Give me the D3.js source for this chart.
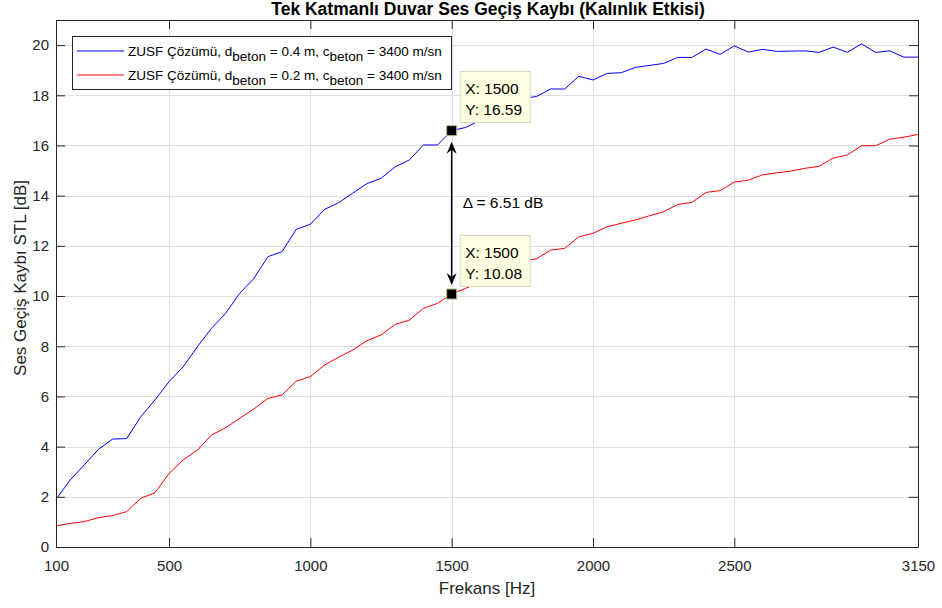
<!DOCTYPE html>
<html>
<head>
<meta charset="utf-8">
<script src="https://cdn.jsdelivr.net/npm/d3@7"></script>
<style>
  html, body { margin: 0; padding: 0; background: #fff; }
  svg { display: block; font-family: "Liberation Sans", Arial, Helvetica, sans-serif; }
</style>
</head>
<body>
<svg id="chart" width="942" height="608"></svg>
<script>
// Frequencies (Hz) at which the transmission loss was evaluated
const freqs = [100, 150, 200, 250, 300, 350, 400, 450, 500, 550, 600, 650, 700, 750, 800, 850, 900, 950,
  1000, 1050, 1100, 1150, 1200, 1250, 1300, 1350, 1400, 1450, 1500, 1550, 1600, 1650, 1700, 1750, 1800,
  1850, 1900, 1950, 2000, 2050, 2100, 2150, 2200, 2250, 2300, 2350, 2400, 2450, 2500, 2550, 2600, 2650,
  2700, 2750, 2800, 2850, 2900, 2950, 3000, 3050, 3100, 3150];

// STL [dB] for the 0.4 m concrete wall
const stlThick = [1.90, 2.67, 3.27, 3.89, 4.30, 4.32, 5.19, 5.86, 6.59, 7.18, 7.98, 8.71, 9.31, 10.11, 10.70,
  11.57, 11.77, 12.66, 12.86, 13.45, 13.72, 14.10, 14.48, 14.69, 15.15, 15.42, 16.02, 16.02, 16.59, 16.72,
  17.00, 17.35, 17.60, 17.88, 17.95, 18.25, 18.25, 18.76, 18.61, 18.87, 18.90, 19.11, 19.19, 19.27, 19.51,
  19.51, 19.84, 19.63, 19.97, 19.72, 19.83, 19.75, 19.76, 19.77, 19.71, 19.92, 19.71, 20.05, 19.71, 19.77,
  19.52, 19.52];

// STL [dB] for the 0.2 m concrete wall
const stlThin = [0.84, 0.94, 1.01, 1.17, 1.25, 1.41, 1.94, 2.16, 2.93, 3.47, 3.86, 4.46, 4.75, 5.13, 5.50,
  5.92, 6.06, 6.61, 6.79, 7.25, 7.56, 7.85, 8.22, 8.45, 8.87, 9.04, 9.51, 9.71, 10.08, 10.31, 10.55, 10.85,
  11.15, 11.40, 11.48, 11.83, 11.90, 12.36, 12.50, 12.76, 12.90, 13.03, 13.20, 13.36, 13.65, 13.73, 14.13,
  14.20, 14.54, 14.62, 14.83, 14.91, 14.98, 15.09, 15.17, 15.50, 15.62, 15.99, 15.99, 16.25, 16.33, 16.44];

const xTicks = [100, 500, 1000, 1500, 2000, 2500, 3150];
const yTicks = [0, 2, 4, 6, 8, 10, 12, 14, 16, 18, 20];

// Legend entries: [plain, subscript, plain, subscript, plain]
const legendThick = ["ZUSF Çözümü, d", "beton", " = 0.4 m, c", "beton", " = 3400 m/sn"];
const legendThin  = ["ZUSF Çözümü, d", "beton", " = 0.2 m, c", "beton", " = 3400 m/sn"];

// Data tips at the comparison frequency
const tipFreq = 1500;
const tipThick = 16.59;
const tipThin = 10.08;
const deltaLabel = "Δ = 6.51 dB";

const titleText = "Tek Katmanlı Duvar Ses Geçiş Kaybı (Kalınlık Etkisi)";
const xLabel = "Frekans [Hz]";
const yLabel = "Ses Geçiş Kaybı STL [dB]";

const svg = d3.select("#chart");
const plot = { left: 56, right: 918, top: 20, bottom: 547 };
const axisColor = "#262626";

const x = d3.scaleLinear().domain([100, 3150]).range([plot.left, plot.right]);
const y = d3.scaleLinear().domain([0, 21]).range([plot.bottom, plot.top]);

// Grid
const grid = svg.append("g").attr("stroke", "#dfdfdf").attr("stroke-width", 1);
grid.selectAll("line.gx").data(xTicks).join("line")
  .attr("x1", d => Math.round(x(d)) + 0.5).attr("x2", d => Math.round(x(d)) + 0.5)
  .attr("y1", plot.top).attr("y2", plot.bottom);
grid.selectAll("line.gy").data(yTicks).join("line")
  .attr("y1", d => Math.round(y(d)) + 0.5).attr("y2", d => Math.round(y(d)) + 0.5)
  .attr("x1", plot.left).attr("x2", plot.right);

// Curves
const line = d3.line().x((d, i) => x(freqs[i])).y(d => y(d));
svg.append("path").datum(stlThick).attr("d", line)
  .attr("fill", "none").attr("stroke", "#0000ff").attr("stroke-width", 1);
svg.append("path").datum(stlThin).attr("d", line)
  .attr("fill", "none").attr("stroke", "#ff0000").attr("stroke-width", 1);

// Axes (box with inward ticks)
function styleAxis(g) {
  g.selectAll("path").attr("stroke", axisColor);
  g.selectAll("line").attr("stroke", axisColor);
  g.selectAll("text").attr("fill", axisColor).style("font-size", "15px");
}
svg.append("g").attr("transform", `translate(0,${plot.bottom})`)
  .call(d3.axisBottom(x).tickValues(xTicks).tickFormat(d3.format("d"))
    .tickSizeInner(-9).tickSizeOuter(0).tickPadding(13))
  .call(styleAxis).attr("font-family", null);
svg.append("g").attr("transform", `translate(0,${plot.top})`)
  .call(d3.axisTop(x).tickValues(xTicks).tickFormat("").tickSizeInner(-9).tickSizeOuter(0))
  .call(styleAxis);
svg.append("g").attr("transform", `translate(${plot.left},0)`)
  .call(d3.axisLeft(y).tickValues(yTicks).tickFormat(d3.format("d"))
    .tickSizeInner(-9).tickSizeOuter(0).tickPadding(7))
  .call(styleAxis).attr("font-family", null);
svg.append("g").attr("transform", `translate(${plot.right},0)`)
  .call(d3.axisRight(y).tickValues(yTicks).tickFormat("").tickSizeInner(-9).tickSizeOuter(0))
  .call(styleAxis);
svg.selectAll(".domain").attr("stroke", axisColor);

// Title and axis labels
svg.append("text").attr("x", 488).attr("y", 15)
  .attr("text-anchor", "middle").attr("font-weight", "bold").attr("font-size", 17.5)
  .attr("fill", "#000").text(titleText);
svg.append("text").attr("x", (plot.left + plot.right) / 2).attr("y", 594)
  .attr("text-anchor", "middle").attr("font-size", 17).attr("fill", axisColor).text(xLabel);
svg.append("text").attr("transform", `translate(26,278) rotate(-90)`)
  .attr("text-anchor", "middle").attr("font-size", 17).attr("fill", axisColor).text(yLabel);

// Legend
const lg = svg.append("g");
lg.append("rect").attr("x", 72.5).attr("y", 36.5).attr("width", 379).attr("height", 53)
  .attr("fill", "#fff").attr("stroke", axisColor).attr("stroke-width", 1);
function legendRow(parts, color, yy) {
  lg.append("line").attr("x1", 77).attr("x2", 124).attr("y1", yy).attr("y2", yy)
    .attr("stroke", color).attr("stroke-width", 1);
  const t = lg.append("text").attr("x", 128).attr("y", yy + 4.5).attr("font-size", 13.5).attr("fill", "#000");
  parts.forEach((p, i) => {
    const sub = i % 2 === 1;
    t.append("tspan").attr("dy", sub ? 5 : (i > 0 ? -5 : 0)).text(p);
  });
}
legendRow(legendThick, "#0000ff", 51);
legendRow(legendThin, "#ff0000", 75);

// Double-headed arrow between the two data points
const ax = x(tipFreq);
const yTop = y(tipThick) + 11;
const yBot = y(tipThin) - 9;
svg.append("line").attr("x1", ax).attr("x2", ax).attr("y1", yTop + 4).attr("y2", yBot - 4)
  .attr("stroke", "#000").attr("stroke-width", 1.5);
function head(tipY, dir) {
  const L = 12, w = 5, back = 8;
  const p = [
    [ax, tipY],
    [ax - w, tipY + dir * L],
    [ax, tipY + dir * back],
    [ax + w, tipY + dir * L]
  ];
  svg.append("path").attr("d", "M" + p.map(q => q.join(",")).join("L") + "Z").attr("fill", "#000");
}
head(yTop, 1);
head(yBot, -1);
svg.append("text").attr("x", ax + 11).attr("y", y((tipThick + tipThin) / 2) - 4)
  .attr("font-size", 15.5).attr("fill", "#000").text(deltaLabel);

// Data tips
function dataTip(val, boxTop) {
  const px = x(tipFreq), py = y(val);
  svg.append("rect").attr("x", px - 5).attr("y", py - 5).attr("width", 10).attr("height", 10)
    .attr("fill", "#000").attr("stroke", "#b9b48a").attr("stroke-width", 1);
  const g = svg.append("g");
  g.append("rect").attr("x", px + 8.5).attr("y", boxTop + 0.5).attr("width", 70).attr("height", 51)
    .attr("fill", "#ffffe1").attr("stroke", "#d6d6c2").attr("stroke-width", 1);
  g.append("text").attr("x", px + 13.5).attr("y", boxTop + 22.5).attr("font-size", 15.5).attr("fill", "#000")
    .text("X: " + tipFreq);
  g.append("text").attr("x", px + 13.5).attr("y", boxTop + 43.5).attr("font-size", 15.5).attr("fill", "#000")
    .text("Y: " + val.toFixed(2));
}
dataTip(tipThick, 71);
dataTip(tipThin, 235);
</script>
</body>
</html>
